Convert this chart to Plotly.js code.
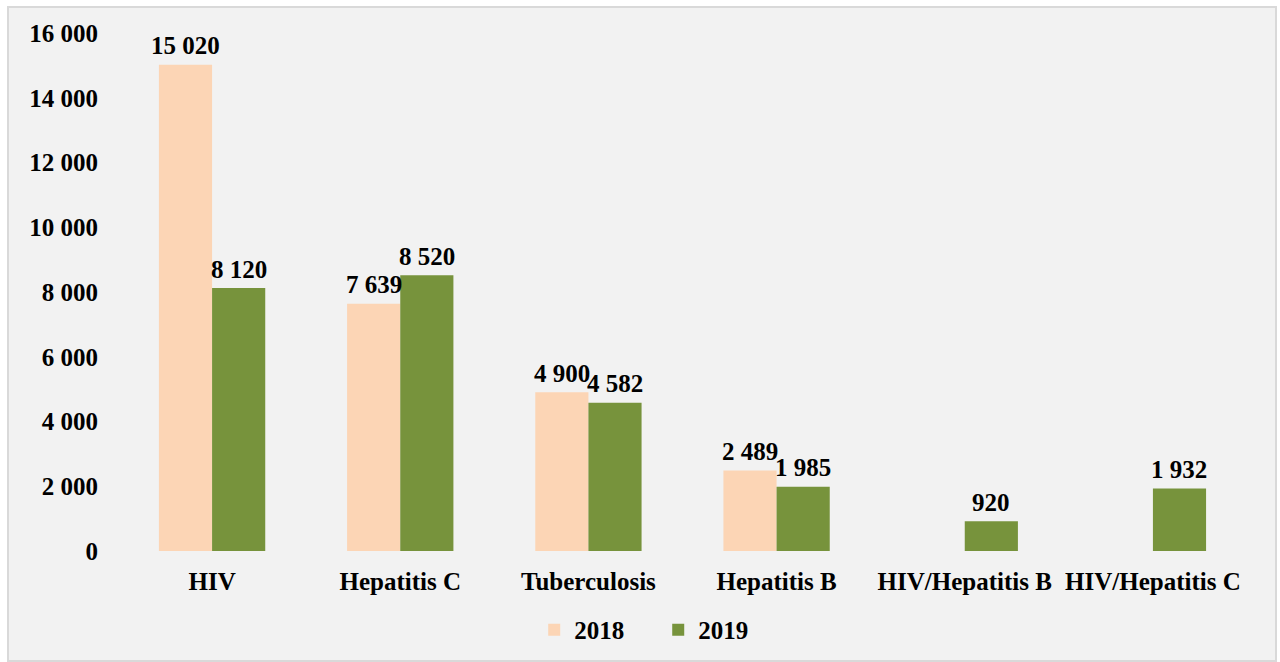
<!DOCTYPE html>
<html>
<head>
<meta charset="utf-8">
<script src="https://cdn.plot.ly/plotly-3.0.1.min.js"></script>
<style>
  html, body { margin: 0; padding: 0; background: #ffffff; width: 1280px; height: 662px; overflow: hidden; }
  #frame { position: absolute; left: 7px; top: 6px; width: 1266px; height: 652px; border: 2px solid #d9d9d9; background: #f2f2f2; }
  #chart { width: 1266px; height: 652px; }
</style>
</head>
<body>
<div id="frame"><div id="chart"></div></div>
<script>
const categories = ["HIV", "Hepatitis C", "Tuberculosis", "Hepatitis B", "HIV/Hepatitis B", "HIV/Hepatitis C"];
const values2018 = [15020, 7639, 4900, 2489, null, null];
const values2019 = [8120, 8520, 4582, 1985, 920, 1932];
const seriesNames = ["2018", "2019"];
const yTicks = [0, 2000, 4000, 6000, 8000, 10000, 12000, 14000, 16000];

const FS = 25;
const font = { family: "Liberation Serif, Times New Roman, serif", color: "#000000" };
const boldFont = (size) => Object.assign({}, font, { size: size, weight: "bold" });

function fmt(v) {
  return String(v).replace(/\B(?=(\d{3})+(?!\d))/g, " ");
}

const traces = [
  {
    type: "bar", name: seriesNames[0], x: categories, y: values2018,
    marker: { color: "#fcd5b5" }
  },
  {
    type: "bar", name: seriesNames[1], x: categories, y: values2019,
    marker: { color: "#77933c" }
  }
];

const annotations = [];
[values2018, values2019].forEach((vals, si) => {
  vals.forEach((v, i) => {
    if (v == null) return;
    annotations.push({
      x: categories[i], y: v, xref: "x", yref: "y",
      text: fmt(v), showarrow: false,
      xshift: si === 0 ? -26.5 : 26.5,
      yanchor: "middle", yshift: 19,
      font: boldFont(FS)
    });
  });
});

const layout = {
  width: 1266, height: 652,
  margin: { l: 109, r: 28, t: 25, b: 109, autoexpand: false },
  paper_bgcolor: "rgba(0,0,0,0)",
  plot_bgcolor: "rgba(0,0,0,0)",
  separators: ". ",
  barmode: "group",
  bargap: 0.435,
  bargroupgap: 0,
  font: boldFont(FS),
  xaxis: {
    type: "category",
    showgrid: false, zeroline: false, showline: false,
    ticks: "", ticklabelstandoff: 13,
    tickfont: boldFont(FS),
    automargin: false
  },
  yaxis: {
    range: [0, 16000],
    tickvals: yTicks,
    tickformat: ",",
    showgrid: false, zeroline: false, showline: false,
    ticks: "", ticklabelstandoff: 19,
    tickfont: boldFont(FS),
    automargin: false
  },
  showlegend: true,
  legend: {
    orientation: "h",
    x: 0.4785, xanchor: "center",
    y: -0.1525, yanchor: "middle",
    font: boldFont(FS),
    bgcolor: "rgba(0,0,0,0)",
    traceorder: "normal",
    entrywidth: 79
  },
  annotations: annotations
};

Plotly.newPlot("chart", traces, layout, { displayModeBar: false, staticPlot: true });
</script>
</body>
</html>
